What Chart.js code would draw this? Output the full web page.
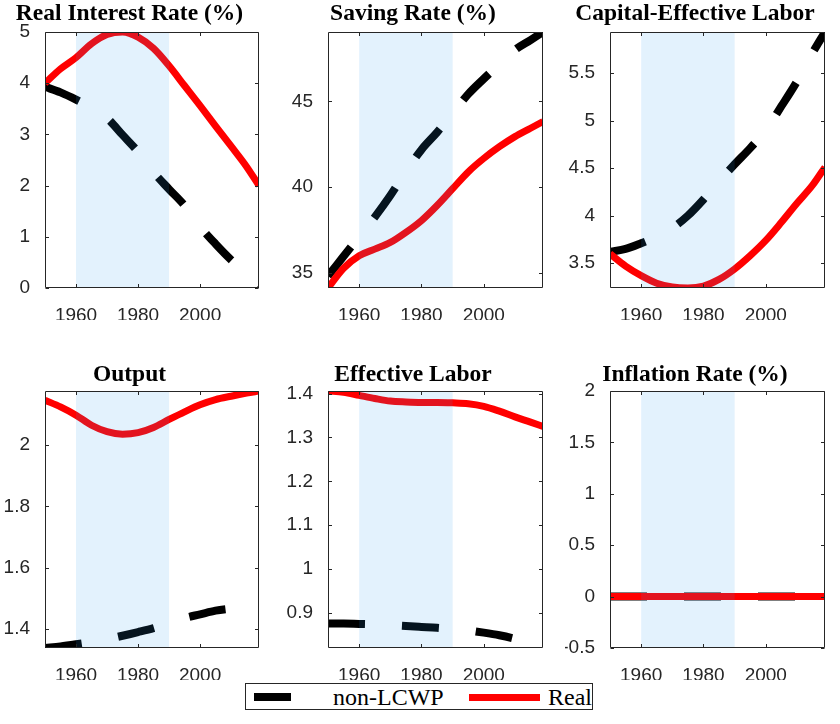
<!DOCTYPE html>
<html>
<head>
<meta charset="utf-8">
<script src="https://cdn.jsdelivr.net/npm/chart.js@4.4.1/dist/chart.umd.min.js"></script>
<style>
  html, body { margin: 0; padding: 0; background: #fff; overflow: hidden; }
  #fig { position: relative; width: 840px; height: 724px; overflow: hidden; background: #fff; }
  #fig canvas { position: absolute; }
  #legend {
    position: absolute; left: 245px; top: 683px; width: 346px; height: 25px;
    border: 1px solid #262626; background: #fff;
    font-family: "Liberation Serif", "Times New Roman", serif; font-size: 24px; color: #000;
  }
  #legend .sw { position: absolute; }
  #legend .lbl { position: absolute; top: 0; line-height: 26px; white-space: nowrap; }
</style>
</head>
<body>
<div id="fig">
  <div id="legend">
    <span class="sw" id="swA"></span><span class="lbl" id="lblA"></span>
    <span class="sw" id="swB"></span><span class="lbl" id="lblB"></span>
  </div>
</div>
<script>
// ---- data -----------------------------------------------------------------
const years = [1950, 1955, 1960, 1965, 1970, 1975, 1980, 1985, 1990, 1995, 2000, 2005, 2010, 2015, 2019];
const seriesNames = ['non-LCWP', 'Real'];

const rateNonLCWP = [3.93, 3.82, 3.68, 3.52, 3.32, 2.99, 2.66, 2.26, 1.93, 1.61, 1.20, 0.86, 0.55, 0.28, 0.00];
const rateReal    = [4.00, 4.28, 4.50, 4.77, 4.95, 5.00, 4.90, 4.68, 4.34, 3.95, 3.56, 3.16, 2.77, 2.37, 2.00];

const savingNonLCWP = [34.8, 35.95, 37.1, 38.24, 39.5, 40.9, 42.18, 43.19, 44.3, 45.42, 46.32, 47.17, 48.0, 48.58, 49.05];
const savingReal    = [34.1, 35.25, 35.98, 36.37, 36.76, 37.35, 38.04, 38.92, 39.9, 40.88, 41.67, 42.35, 42.94, 43.43, 43.82];

const capitalNonLCWP = [3.62, 3.65, 3.71, 3.78, 3.87, 4.00, 4.17, 4.36, 4.54, 4.71, 4.90, 5.15, 5.41, 5.71, 5.93];
const capitalReal    = [3.60, 3.47, 3.37, 3.29, 3.25, 3.24, 3.26, 3.33, 3.44, 3.58, 3.74, 3.93, 4.13, 4.32, 4.51];

const outputNonLCWP = [1.337, 1.342, 1.349, 1.357, 1.366, 1.377, 1.389, 1.402, 1.418, 1.435, 1.447, 1.459, 1.466, 1.472, 1.476];
const outputReal    = [2.147, 2.125, 2.098, 2.065, 2.044, 2.036, 2.041, 2.058, 2.084, 2.109, 2.132, 2.149, 2.160, 2.170, 2.177];

const laborNonLCWP = [0.876, 0.876, 0.875, 0.874, 0.872, 0.870, 0.868, 0.866, 0.863, 0.860, 0.855, 0.849, 0.841, 0.831, 0.820];
const laborReal    = [1.406, 1.403, 1.396, 1.389, 1.383, 1.381, 1.380, 1.380, 1.379, 1.377, 1.371, 1.360, 1.347, 1.335, 1.325];

const inflationNonLCWP = [0, 0, 0, 0, 0, 0, 0, 0, 0, 0, 0, 0, 0, 0, 0];
const inflationReal    = [0, 0, 0, 0, 0, 0, 0, 0, 0, 0, 0, 0, 0, 0, 0];

// tick labels
const xTicks = [1960, 1980, 2000];
const rateTicks = [0, 1, 2, 3, 4, 5];
const savingTicks = [35, 40, 45];
const capitalTicks = [3.5, 4, 4.5, 5, 5.5];
const outputTicks = [1.4, 1.6, 1.8, 2];
const laborTicks = [0.9, 1, 1.1, 1.2, 1.3, 1.4];
const inflationTicks = [-0.5, 0, 0.5, 1, 1.5, 2];
const inflationLimits = [-0.5, 2];

// highlighted period
const shadeSpan = [1960, 1990];

// ---- layout & style -------------------------------------------------------
const AXIS_W = 45;      // room left of each plot box for the y labels
const TITLE_H = 32;     // room above each plot box for the title
const XAXIS_H = 32;     // room below each plot box for the x labels
const colLeft = [45, 328, 610];
const colWidth = [214, 215, 215];
const rowTop = [32, 391];
const rowHeight = [256, 257];
const titlePad = [{ top: 0, bottom: 3.8 }, { top: 1.5, bottom: 2.3 }];

const AXIS_COLOR = '#262626';
const TICK_FONT = { family: '"Liberation Sans", Arial, sans-serif', size: 19 };
const TITLE_FONT = { family: '"Liberation Serif", "Times New Roman", serif', size: 23.5, weight: 'bold', lineHeight: 1.2 };
const STYLE_A = { color: '#000000', width: 8, dash: [37, 37] };
const STYLE_B = { color: '#ff0000', width: 7, dash: [] };
const SHADE_COLOR = 'rgba(40,155,240,0.13)';
const TICK_LEN = 3.5;

const panels = [
  { title: 'Real Interest Rate (%)',  a: rateNonLCWP,      b: rateReal,      yTicks: rateTicks },
  { title: 'Saving Rate (%)',         a: savingNonLCWP,    b: savingReal,    yTicks: savingTicks },
  { title: 'Capital-Effective Labor', a: capitalNonLCWP,   b: capitalReal,   yTicks: capitalTicks },
  { title: 'Output',                  a: outputNonLCWP,    b: outputReal,    yTicks: outputTicks },
  { title: 'Effective Labor',         a: laborNonLCWP,     b: laborReal,     yTicks: laborTicks },
  { title: 'Inflation Rate (%)',      a: inflationNonLCWP, b: inflationReal, yTicks: inflationTicks, limits: inflationLimits }
];

// shaded period (laid over the curves), box and inward tick marks on all sides
const framePlugin = {
  id: 'frame',
  afterDatasetsDraw(chart) {
    const { ctx, chartArea: a, scales: { x, y } } = chart;
    ctx.save();
    const x0 = x.getPixelForValue(shadeSpan[0]);
    const x1 = x.getPixelForValue(shadeSpan[1]);
    ctx.fillStyle = SHADE_COLOR;
    ctx.fillRect(x0, a.top, x1 - x0, a.bottom - a.top);

    const L = Math.round(a.left) + 0.5, R = Math.round(a.right) - 0.5;
    const T = Math.round(a.top) + 0.5, B = Math.round(a.bottom) - 0.5;
    ctx.strokeStyle = AXIS_COLOR;
    ctx.lineWidth = 1;
    ctx.beginPath();
    ctx.rect(L, T, R - L, B - T);
    x.ticks.forEach(t => {
      const px = Math.round(x.getPixelForValue(t.value)) + 0.5;
      ctx.moveTo(px, B); ctx.lineTo(px, B - TICK_LEN);
      ctx.moveTo(px, T); ctx.lineTo(px, T + TICK_LEN);
    });
    y.ticks.forEach(t => {
      const py = Math.round(y.getPixelForValue(t.value)) + 0.5;
      ctx.moveTo(L, py); ctx.lineTo(L + TICK_LEN, py);
      ctx.moveTo(R, py); ctx.lineTo(R - TICK_LEN, py);
    });
    ctx.stroke();
    ctx.restore();
  }
};

function toPoints(vals) {
  return years.map((yr, i) => ({ x: yr, y: vals[i] }));
}

function lineDataset(label, vals, st, order) {
  return {
    label, data: toPoints(vals), order,
    borderColor: st.color, borderWidth: st.width, borderDash: st.dash,
    borderCapStyle: 'butt', borderJoinStyle: 'round',
    pointRadius: 0, fill: false, cubicInterpolationMode: 'monotone'
  };
}

const fig = document.getElementById('fig');

panels.forEach((p, i) => {
  const col = i % 3, row = Math.floor(i / 3);
  const w = colWidth[col] + 2 * AXIS_W;
  const h = TITLE_H + rowHeight[row] + XAXIS_H;
  const canvas = document.createElement('canvas');
  canvas.width = w; canvas.height = h;
  canvas.style.width = w + 'px'; canvas.style.height = h + 'px';
  canvas.style.left = (colLeft[col] - AXIS_W) + 'px';
  canvas.style.top = (rowTop[row] - TITLE_H) + 'px';
  fig.insertBefore(canvas, document.getElementById('legend'));

  const all = p.a.concat(p.b);
  const yMin = p.limits ? p.limits[0] : Math.min(...all);
  const yMax = p.limits ? p.limits[1] : Math.max(...all);

  new Chart(canvas, {
    type: 'line',
    data: {
      datasets: [
        lineDataset(seriesNames[0], p.a, STYLE_A, 1),
        lineDataset(seriesNames[1], p.b, STYLE_B, 0)
      ]
    },
    options: {
      responsive: false, animation: false, devicePixelRatio: 1,
      layout: { padding: { left: 0, right: AXIS_W, top: 0, bottom: 0 } },
      plugins: {
        legend: { display: false },
        tooltip: { enabled: false },
        title: {
          display: true, text: p.title, color: '#000',
          font: TITLE_FONT, padding: titlePad[row]
        }
      },
      scales: {
        x: {
          type: 'linear', min: years[0], max: years[years.length - 1], bounds: 'data',
          grid: { display: false }, border: { display: false },
          afterBuildTicks: s => { s.ticks = xTicks.map(v => ({ value: v })); },
          afterFit: s => { s.height = XAXIS_H; },
          ticks: {
            color: AXIS_COLOR, font: TICK_FONT, padding: 8,
            maxRotation: 0, autoSkip: false, callback: v => String(v)
          }
        },
        y: {
          type: 'linear', min: yMin, max: yMax, bounds: 'data',
          grid: { display: false }, border: { display: false },
          afterBuildTicks: s => { s.ticks = p.yTicks.map(v => ({ value: v })); },
          afterFit: s => { s.width = AXIS_W; },
          ticks: {
            color: AXIS_COLOR, font: TICK_FONT, padding: 7,
            autoSkip: false, callback: v => String(v)
          }
        }
      }
    },
    plugins: [framePlugin]
  });
});

// legend
const swA = document.getElementById('swA'), swB = document.getElementById('swB');
Object.assign(swA.style, { left: '8px', width: '37px', top: (13 - STYLE_A.width / 2) + 'px', height: STYLE_A.width + 'px', background: STYLE_A.color });
Object.assign(swB.style, { left: '223px', width: '71px', top: (13 - STYLE_B.width / 2) + 'px', height: STYLE_B.width + 'px', background: STYLE_B.color });
const lblA = document.getElementById('lblA'), lblB = document.getElementById('lblB');
lblA.textContent = seriesNames[0]; lblA.style.left = '87px';
lblB.textContent = seriesNames[1]; lblB.style.left = '302px';
</script>
</body>
</html>
